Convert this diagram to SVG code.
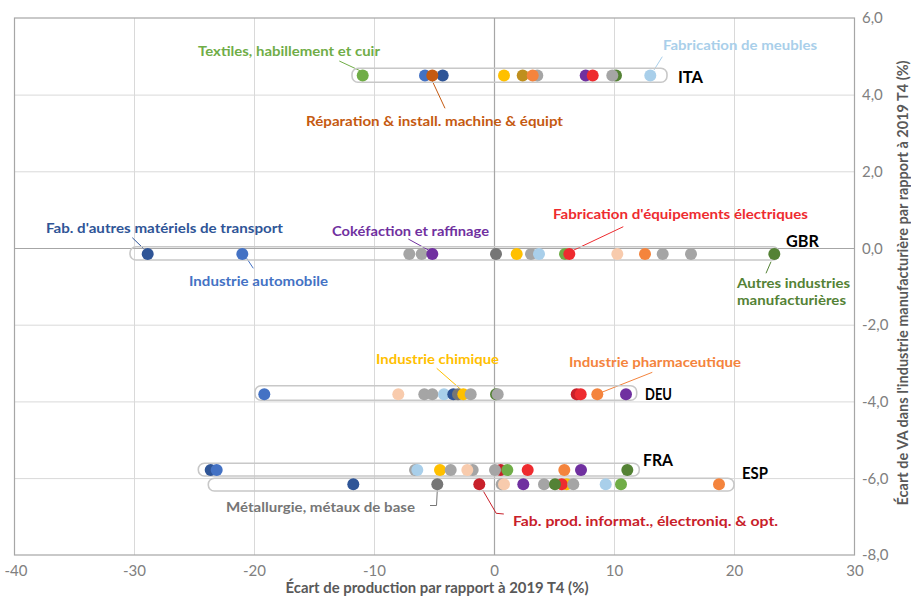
<svg xmlns="http://www.w3.org/2000/svg" width="911" height="597" viewBox="0 0 911 597">
<style>
.grid{stroke:#d9d9d9;stroke-width:1;fill:none}
.axis{stroke:#a6a6a6;stroke-width:1.2;fill:none}
.frame{stroke:#a6a6a6;stroke-width:1.2;fill:none}
.pill{stroke:#c8c8c8;stroke-width:1.6;fill:none}
.tick{font-family:Lato,"Liberation Sans",sans-serif;font-size:15px;fill:#808080}
.ttl{font-family:Lato,"Liberation Sans",sans-serif;font-size:15px;font-weight:bold;fill:#595959}
.lbl{font-family:Lato,"Liberation Sans",sans-serif;font-size:14px;font-weight:bold}
.cty{font-family:Lato,"Liberation Sans",sans-serif;font-size:17px;font-weight:bold;fill:#000}
.ld{stroke-width:1;fill:none}
.g{fill:#70ad47}.dg{fill:#548235}.b{fill:#4472c4}.db{fill:#2f5597}.lb{fill:#a9cfea}
.o{fill:#f4843d}.do{fill:#c55a11}.y{fill:#ffc000}.gd{fill:#bf8f1e}.gr{fill:#a5a5a5}
.dgr{fill:#767676}.p{fill:#7030a0}.r{fill:#ee2b2f}.dr{fill:#c8202a}.pe{fill:#f8cbad}
</style>
<rect width="911" height="597" fill="#ffffff"/>
<g id="grid">
<path class="grid" d="M134.5 18V555M254.5 18V555M374.5 18V555M614.5 18V555M734.5 18V555M14.5 95.1H854.5M14.5 171.8H854.5M14.5 325.2H854.5M14.5 401.9H854.5M14.5 478.6H854.5"/>
<path class="axis" d="M494.5 18V555M14.5 248.5H854.5"/>
<rect class="frame" x="14.5" y="18" width="840" height="537"/>
</g>
<g id="axis-labels">
<text class="tick" x="862" y="23">6,0</text>
<text class="tick" x="862" y="100">4,0</text>
<text class="tick" x="862" y="177">2,0</text>
<text class="tick" x="862" y="253.5">0,0</text>
<text class="tick" x="862" y="330">-2,0</text>
<text class="tick" x="862" y="407">-4,0</text>
<text class="tick" x="862" y="483.5">-6,0</text>
<text class="tick" x="862" y="560">-8,0</text>
<g text-anchor="middle">
<text class="tick" x="16" y="576">-40</text>
<text class="tick" x="134.5" y="576">-30</text>
<text class="tick" x="254.5" y="576">-20</text>
<text class="tick" x="374.5" y="576">-10</text>
<text class="tick" x="494.5" y="576">0</text>
<text class="tick" x="614.5" y="576">10</text>
<text class="tick" x="734.5" y="576">20</text>
<text class="tick" x="855" y="576">30</text>
<text class="ttl" x="437" y="593" textLength="303" lengthAdjust="spacingAndGlyphs">Écart de production par rapport à 2019 T4 (%)</text>
<text class="ttl" font-size="14" transform="translate(908,283) rotate(-90)" x="0" y="0" textLength="445" lengthAdjust="spacingAndGlyphs">Écart de VA dans l'industrie manufacturière par rapport à 2019 T4 (%)</text>
</g>
</g>
<g id="connectors">
<path class="ld" stroke="#70ad47" d="M339.3 61L360 70.7"/>
<path class="ld" stroke="#a9cfea" d="M662.3 56.7L654 70"/>
<path class="ld" stroke="#c55a11" d="M432.3 81L445 108.3"/>
<path class="ld" stroke="#2f5597" d="M132.3 237.7L143.3 248.3"/>
<path class="ld" stroke="#4472c4" d="M246.7 258.3L253.3 268.3"/>
<path class="ld" stroke="#7030a0" d="M408.3 239L428.3 250"/>
<path class="ld" stroke="#ee2b2f" d="M623.3 226.7L574 250"/>
<path class="ld" stroke="#548235" d="M771 261.7L766 273.3"/>
<path class="ld" stroke="#ffc000" d="M436.7 368.3L462.3 390.7"/>
<path class="ld" stroke="#f4843d" d="M652.3 372.3L601.7 392.3"/>
<path class="ld" stroke="#767676" d="M437.3 490L436.5 505.5L430 505.5"/>
<path class="ld" stroke="#c8202a" d="M482.7 490L496.2 513.3L503.8 514"/>
</g>
<g id="ITA">
<rect class="pill" x="352" y="68.3" width="315" height="14" rx="6"/>
<circle class="g" cx="362.7" cy="75.5" r="6"/>
<circle class="b" cx="425" cy="75.5" r="6"/>
<circle class="db" cx="442.7" cy="75.5" r="6"/>
<circle class="do" cx="432.3" cy="75.5" r="6"/>
<circle class="y" cx="504" cy="75.5" r="6"/>
<circle class="gd" cx="522.7" cy="75.5" r="6"/>
<circle class="gr" cx="537.3" cy="75.5" r="6"/>
<circle class="o" cx="532.7" cy="75.5" r="6"/>
<circle class="p" cx="585.7" cy="75.5" r="6"/>
<circle class="r" cx="592.7" cy="75.5" r="6"/>
<circle class="dg" cx="616" cy="75.5" r="6"/>
<circle class="gr" cx="612.3" cy="75.5" r="6"/>
<circle class="lb" cx="650.3" cy="75.5" r="6"/>
<text class="cty" x="678" y="83" textLength="25" lengthAdjust="spacingAndGlyphs">ITA</text>
</g>
<g id="GBR">
<rect class="pill" x="130" y="246.7" width="649" height="13.3" rx="6"/>
<circle class="db" cx="147.7" cy="254" r="6"/>
<circle class="b" cx="242.3" cy="254" r="6"/>
<circle class="gr" cx="409.3" cy="254" r="6"/>
<circle class="gr" cx="421.7" cy="254" r="6"/>
<circle class="p" cx="432.3" cy="254" r="6"/>
<circle class="dgr" cx="496" cy="254" r="6"/>
<circle class="y" cx="516.7" cy="254" r="6"/>
<circle class="gr" cx="531" cy="254" r="6"/>
<circle class="lb" cx="539" cy="254" r="6"/>
<circle class="g" cx="565" cy="254" r="6"/>
<circle class="r" cx="569.3" cy="254" r="6"/>
<circle class="pe" cx="617.3" cy="254" r="6"/>
<circle class="o" cx="645" cy="254" r="6"/>
<circle class="gr" cx="662.7" cy="254" r="6"/>
<circle class="gr" cx="691" cy="254" r="6"/>
<circle class="dg" cx="774.3" cy="254" r="6"/>
<text class="cty" x="786" y="247.3" textLength="33" lengthAdjust="spacingAndGlyphs">GBR</text>
</g>
<g id="DEU">
<rect class="pill" x="255" y="385.7" width="381.7" height="14.6" rx="6"/>
<circle class="b" cx="264.3" cy="394.3" r="6"/>
<circle class="pe" cx="398.3" cy="394.3" r="6"/>
<circle class="gr" cx="424.3" cy="394.3" r="6"/>
<circle class="gr" cx="432.3" cy="394.3" r="6"/>
<circle class="lb" cx="444" cy="394.3" r="6"/>
<circle class="db" cx="453.3" cy="394.3" r="6"/>
<circle class="dgr" cx="458" cy="394.3" r="6"/>
<circle class="y" cx="463.3" cy="394.3" r="6"/>
<circle class="gr" cx="470.7" cy="394.3" r="6"/>
<circle class="dg" cx="496" cy="394.3" r="6"/>
<circle class="gr" cx="497.7" cy="394.3" r="6"/>
<circle class="dr" cx="576.7" cy="394.3" r="6"/>
<circle class="r" cx="580.7" cy="394.3" r="6"/>
<circle class="o" cx="597.3" cy="394.3" r="6"/>
<circle class="p" cx="626" cy="394.3" r="6"/>
<text class="cty" x="645" y="399.5" font-size="15" textLength="27" lengthAdjust="spacingAndGlyphs">DEU</text>
</g>
<g id="FRA">
<rect class="pill" x="198.3" y="463.3" width="441" height="12.7" rx="6"/>
<circle class="db" cx="210.7" cy="470" r="6"/>
<circle class="b" cx="216.7" cy="470" r="6"/>
<circle class="gr" cx="415" cy="470" r="6"/>
<circle class="lb" cx="417.3" cy="470" r="6"/>
<circle class="y" cx="440" cy="470" r="6"/>
<circle class="gr" cx="450.7" cy="470" r="6"/>
<circle class="gr" cx="472.7" cy="470" r="6"/>
<circle class="pe" cx="467.3" cy="470" r="6"/>
<circle class="dr" cx="500.7" cy="470" r="6"/>
<circle class="gr" cx="495" cy="470" r="6"/>
<circle class="g" cx="507.3" cy="470" r="6"/>
<circle class="r" cx="527.7" cy="470" r="6"/>
<circle class="o" cx="564.3" cy="470" r="6"/>
<circle class="p" cx="581" cy="470" r="6"/>
<circle class="dg" cx="627.3" cy="470" r="6"/>
<text class="cty" x="643" y="466" textLength="30" lengthAdjust="spacingAndGlyphs">FRA</text>
</g>
<g id="ESP">
<rect class="pill" x="208.3" y="478.3" width="525.7" height="12.7" rx="6"/>
<circle class="db" cx="353.3" cy="484.3" r="6"/>
<circle class="dgr" cx="437.3" cy="484.3" r="6"/>
<circle class="dr" cx="479.3" cy="484.3" r="6"/>
<circle class="gr" cx="501.7" cy="484.3" r="6"/>
<circle class="pe" cx="504" cy="484.3" r="6"/>
<circle class="p" cx="523.3" cy="484.3" r="6"/>
<circle class="gr" cx="544" cy="484.3" r="6"/>
<circle class="y" cx="566.7" cy="484.3" r="6"/>
<circle class="r" cx="561.7" cy="484.3" r="6"/>
<circle class="dg" cx="555" cy="484.3" r="6"/>
<circle class="gr" cx="573.3" cy="484.3" r="6"/>
<circle class="lb" cx="605.7" cy="484.3" r="6"/>
<circle class="g" cx="621" cy="484.3" r="6"/>
<circle class="o" cx="719" cy="484.3" r="6"/>
<text class="cty" x="742" y="479" textLength="26" lengthAdjust="spacingAndGlyphs">ESP</text>
</g>
<g id="labels">
<text class="lbl" x="198" y="55.5" fill="#70ad47" textLength="182" lengthAdjust="spacingAndGlyphs">Textiles, habillement et cuir</text>
<text class="lbl" x="663" y="50" fill="#a9cfea" textLength="154" lengthAdjust="spacingAndGlyphs">Fabrication de meubles</text>
<text class="lbl" x="306" y="125.5" fill="#c55a11" textLength="257" lengthAdjust="spacingAndGlyphs">Réparation &amp; install. machine &amp; équipt</text>
<text class="lbl" x="46" y="232.7" fill="#2f5597" textLength="237" lengthAdjust="spacingAndGlyphs">Fab. d'autres matériels de transport</text>
<text class="lbl" x="189" y="286" fill="#4472c4" textLength="139" lengthAdjust="spacingAndGlyphs">Industrie automobile</text>
<text class="lbl" x="332" y="235.7" fill="#7030a0" textLength="157" lengthAdjust="spacingAndGlyphs">Cokéfaction et raffinage</text>
<text class="lbl" x="553" y="219.3" fill="#ee2b2f" textLength="255" lengthAdjust="spacingAndGlyphs">Fabrication d'équipements électriques</text>
<text class="lbl" x="737" y="288" font-size="13" fill="#548235" textLength="113" lengthAdjust="spacingAndGlyphs">Autres industries</text>
<text class="lbl" x="737" y="305" font-size="13" fill="#548235" textLength="109" lengthAdjust="spacingAndGlyphs">manufacturières</text>
<text class="lbl" x="376" y="364" fill="#ffc000" textLength="123" lengthAdjust="spacingAndGlyphs">Industrie chimique</text>
<text class="lbl" x="569" y="367.3" fill="#f4843d" textLength="172" lengthAdjust="spacingAndGlyphs">Industrie pharmaceutique</text>
<text class="lbl" x="226" y="512" fill="#767676" textLength="189" lengthAdjust="spacingAndGlyphs">Métallurgie, métaux de base</text>
<text class="lbl" x="513" y="526" fill="#c8202a" textLength="265" lengthAdjust="spacingAndGlyphs">Fab. prod. informat., électroniq. &amp; opt.</text>
</g>
</svg>
